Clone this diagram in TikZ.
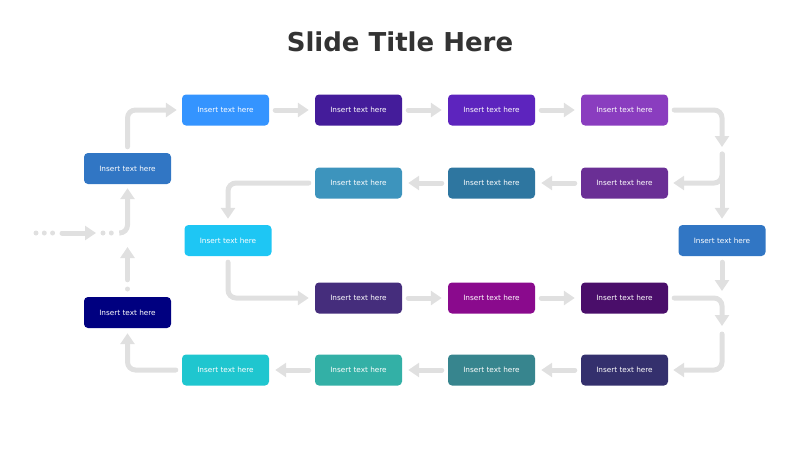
\documentclass[tikz,border=0pt]{standalone}
\usepackage{fontspec}
\setmainfont{DejaVu Sans}
\usepackage{xcolor}
\usetikzlibrary{arrows.meta, positioning}

\definecolor{linegray}{HTML}{E0E0E0}
\definecolor{titlegray}{HTML}{333333}

\begin{document}
\begin{tikzpicture}[x=1pt, y=-1pt,
  box/.style={rectangle, rounded corners=4pt, minimum width=87pt, minimum height=31pt, inner sep=0pt, text=white, font=\fontsize{7.3}{9}\selectfont},
  flow/.style={draw=linegray, line width=5pt, line cap=round, rounded corners=8pt, -{Triangle[length=11pt,width=14pt]}, shorten <=6pt, shorten >=6pt},
  dots/.style={draw=linegray, line width=5pt, line cap=round, dash pattern=on 0pt off 8.3pt}]
\useasboundingbox (0,0) rectangle (800,450);

% Title
\node[font=\fontsize{26}{30}\selectfont\bfseries, text=titlegray] (title) at (400,42) {Slide Title Here};

% Left column
\node[box, fill={rgb,255:red,49;green,118;blue,196}] (lb) at (127.5,168.5) {Insert text here};
\node[box, fill={rgb,255:red,0;green,0;blue,128}] (nv) at (127.5,312.5) {Insert text here};

% Row 1
\foreach \n/\x/\c in {1/225.5/3494FF, 2/358.5/441C9A, 3/491.5/5D24BE, 4/624.5/8A3DBF} {
    \definecolor{fc}{HTML}{\c}
    \node[box, fill=fc] (a\n) at (\x,110) {Insert text here};
}

% Row 2
\foreach \n/\x/\c in {2/358.5/3D94BD, 3/491.5/2E76A0, 4/624.5/6A2F95} {
    \definecolor{fc}{HTML}{\c}
    \node[box, fill=fc] (b\n) at (\x,183) {Insert text here};
}
\node[box, fill={rgb,255:red,30;green,198;blue,244}] (cy) at (228,240.5) {Insert text here};
\node[box, fill={rgb,255:red,49;green,118;blue,196}] (rb) at (722,240.5) {Insert text here};

% Row 3
\foreach \n/\x/\c in {2/358.5/452D7C, 3/491.5/8A0A8D, 4/624.5/4A0E6A} {
    \definecolor{fc}{HTML}{\c}
    \node[box, fill=fc] (c\n) at (\x,298) {Insert text here};
}

% Row 4
\foreach \n/\x/\c in {1/225.5/1FC6CF, 2/358.5/33B0A6, 3/491.5/37858E, 4/624.5/34306D} {
    \definecolor{fc}{HTML}{\c}
    \node[box, fill=fc] (d\n) at (\x,370) {Insert text here};
}

% Junctions
\coordinate (in1) at (36,233);
\coordinate (in2) at (53.5,233);
\coordinate (in3) at (62,233);
\coordinate (in4) at (102,233);
\coordinate (in5) at (103,233);
\coordinate (in6) at (112,233);
\coordinate (in7) at (120,233);
\coordinate (j0) at (127.5,233);
\coordinate (j1) at (722,150);
\coordinate (j2) at (722,298);
\coordinate (j3) at (722,330);
\coordinate (dt) at (127.5,289);

% Entry
\draw[dots] (in1) -- (in2);
\draw[flow, shorten <=0pt] (in3) -- (in4);
\draw[dots] (in5) -- (in6);
\draw[flow, shorten <=0pt, shorten >=4pt] (in7) -| (lb.south);
\draw[dots] (dt) -- ++(0,1);
\draw[flow, shorten <=17pt, shorten >=14pt] (nv.north) -- (j0);

% Connectors
\draw[flow, shorten >=5pt] (lb.north) |- (a1.west);
\foreach \i/\j in {a1/a2, a2/a3, a3/a4, b4/b3, b3/b2, c2/c3, c3/c4, d4/d3, d3/d2, d2/d1} {
    \draw[flow] (\i) -- (\j);
}
\draw[flow, shorten >=3pt] (a4.east) -| (j1);
\draw[flow, shorten <=4pt] (j1) -- (rb.north);
\draw[flow, shorten <=4pt, shorten >=5pt] (j1) |- (b4.east);
\draw[flow, shorten >=6pt] (b2.west) -| (cy.north);
\draw[flow] (cy.south) |- (c2.west);
\draw[flow, shorten >=7pt] (rb.south) -- (j2);
\draw[flow, shorten >=4pt] (c4.east) -| (j3);
\draw[flow, shorten <=4pt, shorten >=5pt] (j3) |- (d4.east);
\draw[flow, shorten >=5pt] (d1.west) -| (nv.south);
\end{tikzpicture}
\end{document}
